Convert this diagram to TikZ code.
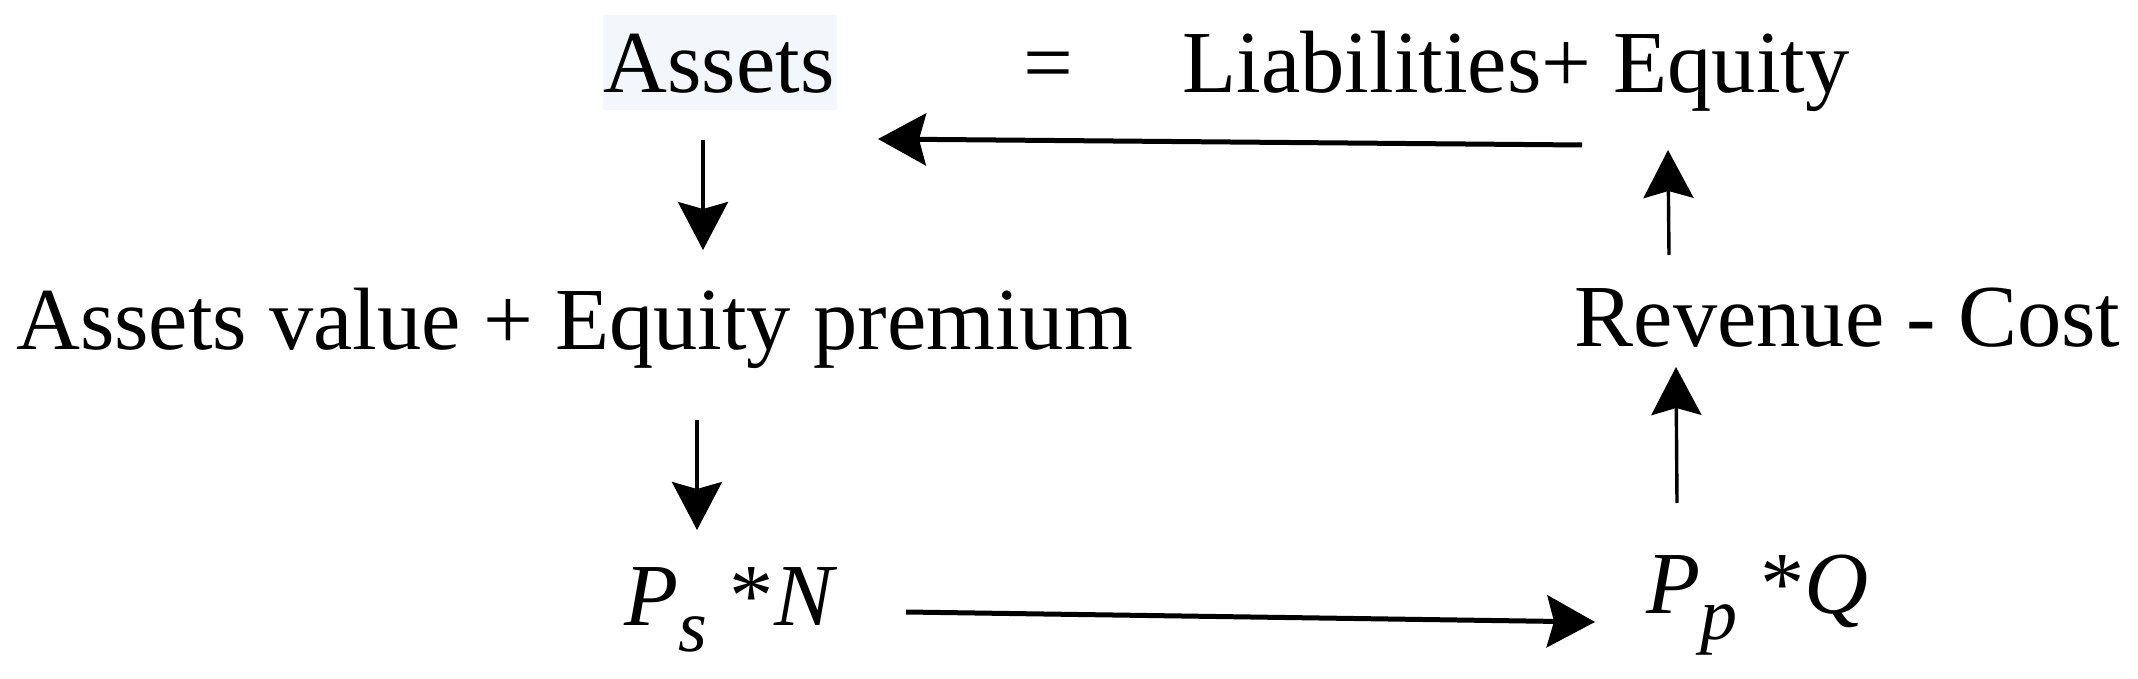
\documentclass[tikz,border=0pt]{standalone}
\usepackage{fontspec}
\setmainfont{Liberation Serif}
\usetikzlibrary{arrows.meta}
\definecolor{hilite}{RGB}{243,246,250}
\newcommand{\subidx}[1]{\raisebox{-0.3em}{\fontsize{37}{37}\selectfont\itshape #1}}
\tikzset{
  lbl/.style={anchor=base, inner sep=0pt, font=\fontsize{44.25}{50}\selectfont},
  vlink/.style={-{Stealth[length=24pt,width=25pt,inset=3.5pt]}, line width=1.7pt},
  hlink/.style={-{Stealth[length=24pt,width=26pt,inset=3.5pt]}, line width=2.5pt},
}
\begin{document}
\begin{tikzpicture}[x=0.5pt,y=0.5pt,yscale=-1,xscale=1]
            \useasboundingbox (0,0) rectangle (2138,679);
            \fill[hilite] (603,15) rectangle (837,110);
            % text
            \node[lbl] (assets) at (719,93) {Assets};
            \node[lbl] (eq) at (1048,93) {=};
            \node[lbl] (liab) at (1516,93) {Liabilities+ Equity};
            \node[lbl] (assetsval) at (574.5,350) {Assets value + Equity premium};
            \node[lbl] (rev) at (1847.5,347) {Revenue - Cost};
            \node[lbl] (psn) at (731,625) {\textit{P}\subidx{s} *\textit{N}};
            \node[lbl] (ppq) at (1757.5,613) {\textit{P}\subidx{p} *\textit{Q}};
            % arrow ends
            \coordinate (d1s) at (703,140);
            \coordinate (d1e) at (703,250);
            \coordinate (d2s) at (697,420);
            \coordinate (d2e) at (697,530);
            \coordinate (rs) at (906,612);
            \coordinate (re) at (1595,622);
            \coordinate (u1s) at (1677,503);
            \coordinate (u1e) at (1676,367);
            \coordinate (u2s) at (1669,255);
            \coordinate (u2e) at (1668,150);
            \coordinate (ls) at (1582,145);
            \coordinate (le) at (878,139);
            % arrows
            \draw[vlink] (d1s) -- (d1e);
            \draw[vlink] (d2s) -- (d2e);
            \draw[hlink] (rs) -- (re);
            \draw[vlink] (u1s) -- (u1e);
            \draw[vlink] (u2s) -- (u2e);
            \draw[hlink] (ls) -- (le);
\end{tikzpicture}
\end{document}
